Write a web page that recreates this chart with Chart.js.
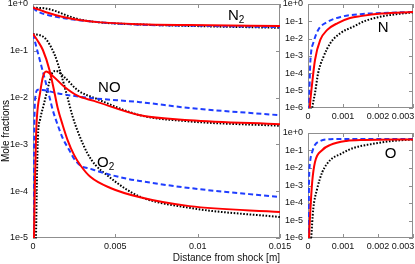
<!DOCTYPE html>
<html>
<head>
<meta charset="utf-8">
<script src="https://cdn.jsdelivr.net/npm/chart.js@4.4.1/dist/chart.umd.min.js"></script>
<style>
  html, body { margin: 0; padding: 0; background: #fff; }
  #wrap { position: relative; width: 415px; height: 264px; overflow: hidden; }
  canvas { position: absolute; }
</style>
</head>
<body>
<div id="wrap">
  <canvas id="main" width="300" height="264" style="left:0;top:0"></canvas>
  <canvas id="panelN" width="140" height="125" style="left:275px;top:0"></canvas>
  <canvas id="panelO" width="140" height="139" style="left:275px;top:125px"></canvas>
</div>
<script>
const FAMILY = "'Liberation Sans', Arial, Helvetica, sans-serif";

// tick values
const mainXTicks = [0, 0.005, 0.01, 0.015];
const mainYTicks = [1, 1e-1, 1e-2, 1e-3, 1e-4, 1e-5];
const sideXTicks = [0, 0.001, 0.002, 0.003];
const sideYTicks = [1, 1e-1, 1e-2, 1e-3, 1e-4, 1e-5, 1e-6];

// --- main panel: N2 ---
const n2RedX   = [0, 0.0004, 0.0009, 0.0017, 0.0027, 0.0039, 0.0065, 0.0095, 0.015];
const n2RedY   = [0.83, 0.75, 0.65, 0.54, 0.46, 0.41, 0.37, 0.355, 0.34];
const n2BlueX  = [0, 0.0002, 0.0005, 0.001, 0.002, 0.0036, 0.0065, 0.0095, 0.015];
const n2BlueY  = [0.83, 0.72, 0.64, 0.57, 0.49, 0.42, 0.36, 0.345, 0.32];
const n2BlackX = [0, 0.0007, 0.0013, 0.0021, 0.0028, 0.0039, 0.0065, 0.0095, 0.015];
const n2BlackY = [0.83, 0.81, 0.72, 0.56, 0.47, 0.41, 0.365, 0.34, 0.31];

// --- main panel: NO ---
const noRedX   = [0, 0.00006, 0.00012, 0.00018, 0.00024, 0.00043, 0.0006, 0.0008, 0.0012, 0.0019, 0.0027, 0.0037, 0.0065, 0.0095, 0.015];
const noRedY   = [1e-6, 1e-5, 1.7e-4, 1.3e-3, 3.9e-3, 0.0126, 0.0275, 0.036, 0.029, 0.017, 0.011, 0.0085, 4.2e-3, 3.3e-3, 2.7e-3];
const noBlueX  = [0, 0.00002, 0.00005, 0.00009, 0.00015, 0.0003, 0.0006, 0.0017, 0.0035, 0.0065, 0.0095, 0.015];
const noBlueY  = [1e-6, 1e-5, 3e-4, 4e-3, 0.011, 0.0148, 0.0145, 0.012, 0.0098, 8e-3, 6e-3, 4.2e-3];
const noBlackX = [0, 0.0001, 0.00018, 0.00024, 0.0003, 0.00043, 0.00065, 0.00085, 0.001, 0.0012, 0.0014, 0.0019, 0.0027, 0.0039, 0.0065, 0.0095, 0.015];
const noBlackY = [1e-7, 1e-6, 1e-5, 2e-4, 1.5e-3, 3.4e-3, 7e-3, 0.0135, 0.022, 0.035, 0.037, 0.0275, 0.0145, 9.3e-3, 4.2e-3, 3.1e-3, 2.5e-3];

// --- main panel: O2 ---
const o2RedX   = [0, 0.0003, 0.0006, 0.001, 0.0013, 0.0015, 0.0018, 0.0021, 0.0025, 0.0029, 0.0035, 0.0047, 0.0065, 0.0095, 0.015];
const o2RedY   = [0.23, 0.16, 0.104, 0.039, 0.013, 6e-3, 2.6e-3, 1.24e-3, 5.9e-4, 3.5e-4, 2.0e-4, 1.17e-4, 7.4e-5, 4.8e-5, 3.6e-5];
const o2BlueX  = [0, 0.0003, 0.00073, 0.001, 0.0012, 0.0015, 0.0018, 0.0022, 0.0025, 0.0029, 0.0035, 0.0041, 0.0055, 0.0065, 0.0095, 0.015];
const o2BlueY  = [0.23, 0.09, 0.024, 0.0103, 5.4e-3, 2.6e-3, 1.37e-3, 7.6e-4, 4.9e-4, 3.5e-4, 3.0e-4, 2.57e-4, 1.91e-4, 1.65e-4, 1.17e-4, 7.5e-5];
const o2BlackX = [0, 0.0007, 0.0013, 0.0017, 0.0021, 0.0024, 0.0028, 0.0033, 0.0038, 0.0045, 0.0055, 0.0065, 0.0095, 0.015];
const o2BlackY = [0.23, 0.19, 0.085, 0.032, 0.010, 4.0e-3, 1.6e-3, 6.5e-4, 3.6e-4, 2.2e-4, 1.2e-4, 7.6e-5, 4.4e-5, 2.8e-5];

// --- side panel: N ---
const nRedX   = [0, 0.00005, 0.00012, 0.0002, 0.00035, 0.00055, 0.00085, 0.0012, 0.0015, 0.0021, 0.003];
const nRedY   = [1e-8, 1e-6, 2.8e-5, 5.9e-4, 8.4e-3, 0.032, 0.08, 0.156, 0.2, 0.28, 0.35];
const nBlueX  = [0, 0.00003, 0.00006, 0.00009, 0.00015, 0.00029, 0.00055, 0.00093, 0.0015, 0.0021, 0.003];
const nBlueY  = [1e-8, 1e-6, 2.3e-4, 1.7e-3, 5.6e-3, 0.032, 0.091, 0.18, 0.26, 0.30, 0.35];
const nBlackX = [0, 0.00012, 0.0002, 0.00029, 0.00044, 0.00064, 0.00093, 0.0013, 0.0016, 0.0021, 0.0026, 0.003];
const nBlackY = [1e-8, 1e-6, 7.3e-6, 1.04e-4, 8.7e-4, 5.6e-3, 0.021, 0.05, 0.1, 0.19, 0.27, 0.33];

// --- side panel: O ---
const oRedX   = [0, 0.00003, 0.00006, 0.00012, 0.0002, 0.00041, 0.00064, 0.0011, 0.0016, 0.003];
const oRedY   = [1e-8, 1e-6, 2e-5, 1.6e-3, 0.022, 0.107, 0.21, 0.35, 0.40, 0.43];
const oBlueX  = [0, 0.000015, 0.00003, 0.00006, 0.00012, 0.0002, 0.00035, 0.00064, 0.0011, 0.003];
const oBlueY  = [1e-8, 1e-6, 1.6e-3, 0.022, 0.082, 0.21, 0.35, 0.44, 0.46, 0.45];
const oBlackX = [0, 0.00009, 0.00015, 0.00026, 0.00041, 0.00064, 0.00093, 0.0013, 0.0018, 0.0024, 0.003];
const oBlackY = [1e-8, 1e-6, 4.5e-5, 6.3e-4, 5.9e-3, 0.029, 0.063, 0.14, 0.23, 0.35, 0.43];

const STYLES = {
    red:   { borderColor: '#ff0000', borderDash: [] },
    blue:  { borderColor: '#1f3dff', borderDash: [5, 3] },
    black: { borderColor: '#000000', borderDash: [1.6, 1.6] }
};

function serie(xs, ys, kind) {
    return {
        data: xs.map((x, i) => ({ x: x, y: ys[i] })),
        borderColor: STYLES[kind].borderColor,
        borderDash: STYLES[kind].borderDash,
        borderWidth: 2,
        pointRadius: 0,
        fill: false,
        cubicInterpolationMode: 'monotone'
    };
}

// frame, inner tick marks, species labels
const framePlugin = {
    id: 'frame',
    beforeDatasetsDraw(chart) {
        const { ctx, chartArea: a, scales } = chart;
        ctx.save();
        ctx.strokeStyle = '#8f8f8f';
        ctx.lineWidth = 1;
        ctx.beginPath();
        scales.x.ticks.forEach(t => {
            const px = Math.round(scales.x.getPixelForValue(t.value)) + 0.5;
            ctx.moveTo(px, a.top); ctx.lineTo(px, a.top + 4);
            ctx.moveTo(px, a.bottom); ctx.lineTo(px, a.bottom - 4);
        });
        scales.y.ticks.forEach(t => {
            const py = Math.round(scales.y.getPixelForValue(t.value)) + 0.5;
            ctx.moveTo(a.left, py); ctx.lineTo(a.left + 4, py);
            ctx.moveTo(a.right, py); ctx.lineTo(a.right - 4, py);
        });
        ctx.stroke();
        ctx.strokeRect(a.left + 0.5, a.top + 0.5, a.right - a.left - 1, a.bottom - a.top - 1);
        ctx.restore();
    },
    afterDraw(chart, args, opts) {
        const { ctx, scales } = chart;
        ctx.save();
        ctx.fillStyle = '#000';
        ctx.textAlign = 'left';
        ctx.textBaseline = 'alphabetic';
        (opts.labels || []).forEach(l => {
            const px = scales.x.getPixelForValue(l.x);
            const py = scales.y.getPixelForValue(l.y);
            ctx.font = '15px ' + FAMILY;
            ctx.fillText(l.text, px, py);
            if (l.sub) {
                const w = ctx.measureText(l.text).width;
                ctx.font = '10px ' + FAMILY;
                ctx.fillText(l.sub, px + w, py + 3);
            }
        });
        if (opts.yTitle) {
            ctx.font = '10px ' + FAMILY;
            ctx.textAlign = 'center';
            ctx.textBaseline = 'middle';
            ctx.translate(opts.yTitle.x, opts.yTitle.y);
            ctx.rotate(-Math.PI / 2);
            ctx.fillText(opts.yTitle.text, 0, 0);
        }
        ctx.restore();
    }
};

function makeOptions(cfg) {
    return {
        responsive: false,
        animation: false,
        layout: { padding: cfg.padding },
        plugins: {
            legend: { display: false },
            tooltip: { enabled: false },
            frame: { labels: cfg.labels, yTitle: cfg.yTitle }
        },
        scales: {
            x: {
                type: 'linear',
                min: cfg.xMin,
                max: cfg.xMax,
                grid: { display: false, drawTicks: false },
                border: { display: false },
                ticks: {
                    padding: 3,
                    maxRotation: 0,
                    autoSkip: false,
                    color: '#111',
                    font: { family: FAMILY, size: 9 },
                    // last label of the narrow panels is pushed left to stay inside the figure
                    callback: (v, i, ticks) => (cfg.shiftLast && i === ticks.length - 1)
                        ? String(v) + '        ' : String(v)
                },
                afterBuildTicks: s => { s.ticks = cfg.xTicks.map(v => ({ value: v })); },
                afterFit: s => { s.height = cfg.xHeight; s.paddingLeft = 0; s.paddingRight = 0; },
                title: cfg.xTitle ? {
                    display: true,
                    text: cfg.xTitle,
                    align: 'end',
                    color: '#111',
                    font: { family: FAMILY, size: 10 },
                    padding: { top: 0, bottom: 0 }
                } : { display: false }
            },
            y: {
                type: 'logarithmic',
                min: cfg.yMin,
                max: 1,
                grid: { display: false, drawTicks: false },
                border: { display: false },
                ticks: {
                    padding: 5,
                    autoSkip: false,
                    color: '#111',
                    font: { family: FAMILY, size: 9 },
                    callback: v => Number(v).toExponential(0)
                },
                afterBuildTicks: s => { s.ticks = cfg.yTicks.map(v => ({ value: v })); },
                afterFit: s => { s.width = cfg.yWidth; s.paddingTop = 0; s.paddingBottom = 0; }
            }
        }
    };
}

new Chart(document.getElementById('main'), {
    type: 'line',
    data: {
        datasets: [
            serie(n2RedX, n2RedY, 'red'),
            serie(noRedX, noRedY, 'red'),
            serie(o2RedX, o2RedY, 'red'),
            serie(n2BlueX, n2BlueY, 'blue'),
            serie(noBlueX, noBlueY, 'blue'),
            serie(o2BlueX, o2BlueY, 'blue'),
            serie(n2BlackX, n2BlackY, 'black'),
            serie(noBlackX, noBlackY, 'black'),
            serie(o2BlackX, o2BlackY, 'black')
        ]
    },
    options: makeOptions({
        padding: { top: 4, right: 20, left: 0, bottom: 0 },
        xMin: 0, xMax: 0.015, xTicks: mainXTicks, xHeight: 26,
        yMin: 1e-5, yTicks: mainYTicks, yWidth: 33,
        xTitle: 'Distance from shock [m]',
        yTitle: { text: 'Mole fractions', x: 6, y: 131 },
        labels: [
            { text: 'N', sub: '2', x: 0.01184, y: 0.455 },
            { text: 'NO', x: 0.00395, y: 0.0132 },
            { text: 'O', sub: '2', x: 0.00389, y: 3.3e-4 }
        ]
    }),
    plugins: [framePlugin]
});

new Chart(document.getElementById('panelN'), {
    type: 'line',
    data: {
        datasets: [
            serie(nRedX, nRedY, 'red'),
            serie(nBlueX, nBlueY, 'blue'),
            serie(nBlackX, nBlackY, 'black')
        ]
    },
    options: makeOptions({
        padding: { top: 4, right: 2, left: 0, bottom: 0 },
        xMin: 0, xMax: 0.003, xTicks: sideXTicks, xHeight: 17, shiftLast: true,
        yMin: 1e-6, yTicks: sideYTicks, yWidth: 33,
        labels: [{ text: 'N', x: 0.00199, y: 0.0242 }]
    }),
    plugins: [framePlugin]
});

new Chart(document.getElementById('panelO'), {
    type: 'line',
    data: {
        datasets: [
            serie(oRedX, oRedY, 'red'),
            serie(oBlueX, oBlueY, 'blue'),
            serie(oBlackX, oBlackY, 'black')
        ]
    },
    options: makeOptions({
        padding: { top: 8, right: 2, left: 0, bottom: 0 },
        xMin: 0, xMax: 0.003, xTicks: sideXTicks, xHeight: 26, shiftLast: true,
        yMin: 1e-6, yTicks: sideYTicks, yWidth: 33,
        labels: [{ text: 'O', x: 0.00219, y: 0.0373 }]
    }),
    plugins: [framePlugin]
});
</script>
</body>
</html>
